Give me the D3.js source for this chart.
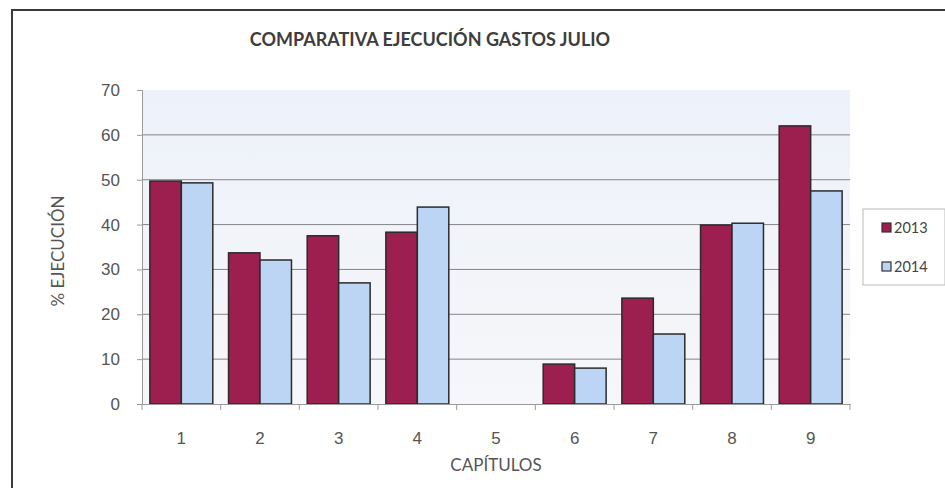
<!DOCTYPE html>
<html>
<head>
<meta charset="utf-8">
<script src="https://cdn.jsdelivr.net/npm/d3@7"></script>
<style>
  body { margin: 0; background: #fff; }
  svg { display: block; font-family: Lato, "Open Sans", sans-serif; }
</style>
</head>
<body>
<div id="chart"></div>
<script>
// datos
const capitulos = ["1", "2", "3", "4", "5", "6", "7", "8", "9"];
const series = ["2013", "2014"];
const valores2013 = [49.7, 33.7, 37.5, 38.3, 0, 8.9, 23.6, 39.9, 62.0];
const valores2014 = [49.3, 32.1, 27.0, 43.9, 0, 8.0, 15.6, 40.3, 47.5];
const yTicks = [0, 10, 20, 30, 40, 50, 60, 70];
const colores = ["#9c1f50", "#bcd5f4"];

const width = 945, height = 488;
const margin = { top: 90, right: 95, bottom: 84, left: 142 };
const plotW = width - margin.left - margin.right;
const plotH = height - margin.top - margin.bottom;

const svg = d3.select("#chart").append("svg")
  .attr("width", width)
  .attr("height", height);

// marco exterior
svg.append("rect")
  .attr("x", 12).attr("y", 10)
  .attr("width", 960).attr("height", 500)
  .attr("fill", "#fff")
  .attr("stroke", "#3a3a3a")
  .attr("stroke-width", 2);

// degradado suave del área de trazado
const defs = svg.append("defs");
const grad = defs.append("linearGradient")
  .attr("id", "fondo").attr("x1", 0).attr("y1", 0).attr("x2", 0).attr("y2", 1);
grad.append("stop").attr("offset", "0%").attr("stop-color", "#edf1f9");
grad.append("stop").attr("offset", "100%").attr("stop-color", "#f6f7fa");

const g = svg.append("g").attr("transform", `translate(${margin.left},${margin.top})`);

const x = d3.scaleBand().domain(capitulos).range([0, plotW]).paddingInner(0).paddingOuter(0);
const x1 = d3.scaleBand().domain(series).range([0, x.bandwidth()]).paddingOuter(0.25);
const y = d3.scaleLinear().domain([0, 70]).range([plotH, 0]);

g.append("rect")
  .attr("width", plotW).attr("height", plotH)
  .attr("fill", "url(#fondo)");

// líneas de cuadrícula
g.selectAll("line.grid")
  .data(yTicks.filter(d => d > 0 && d < 70))
  .enter().append("line")
    .attr("class", "grid")
    .attr("x1", 0).attr("x2", plotW)
    .attr("y1", d => y(d)).attr("y2", d => y(d))
    .attr("stroke", "#858585")
    .attr("stroke-width", 1);

// barras
const datos = capitulos.map((c, i) => ({ cap: c, vals: [valores2013[i], valores2014[i]] }));
const grupo = g.selectAll("g.cap")
  .data(datos)
  .enter().append("g")
    .attr("transform", d => `translate(${x(d.cap)},0)`);

grupo.selectAll("rect")
  .data(d => d.vals.filter(v => v > 0).map((v, k) => ({ serie: series[k], v: v, k: k })))
  .enter().append("rect")
    .attr("x", d => x1(d.serie))
    .attr("y", d => y(d.v))
    .attr("width", x1.bandwidth())
    .attr("height", d => plotH - y(d.v))
    .attr("fill", d => colores[d.k])
    .attr("stroke", "#2b2b2b")
    .attr("stroke-width", 1.5);

// eje Y
const yAxis = g.append("g")
  .call(d3.axisLeft(y).tickValues(yTicks).tickSize(5).tickPadding(17));
yAxis.select(".domain").attr("stroke", "#999");
yAxis.selectAll(".tick line").attr("stroke", "#999");
yAxis.selectAll("text").attr("fill", "#555").attr("font-size", 17);

// eje X
const xAxis = g.append("g")
  .attr("transform", `translate(0,${plotH})`)
  .call(d3.axisBottom(x).tickSize(0).tickPadding(28));
xAxis.select(".domain").attr("stroke", "#999");
xAxis.selectAll("text").attr("fill", "#555").attr("font-size", 17);
xAxis.selectAll("line.sep")
  .data(d3.range(capitulos.length + 1))
  .enter().append("line")
    .attr("class", "sep")
    .attr("x1", i => i * x.bandwidth()).attr("x2", i => i * x.bandwidth())
    .attr("y1", 0).attr("y2", 6)
    .attr("stroke", "#999");

// títulos
svg.append("text")
  .attr("x", 430).attr("y", 46)
  .attr("text-anchor", "middle")
  .attr("font-size", 18).attr("font-weight", "bold")
  .attr("fill", "#3d3d3d")
  .text("COMPARATIVA EJECUCIÓN GASTOS JULIO");

svg.append("text")
  .attr("x", margin.left + plotW / 2).attr("y", 471)
  .attr("text-anchor", "middle")
  .attr("font-size", 17).attr("fill", "#555")
  .text("CAPÍTULOS");

svg.append("text")
  .attr("transform", `translate(64,${margin.top + plotH / 2 + 4}) rotate(-90)`)
  .attr("text-anchor", "middle")
  .attr("font-size", 17).attr("fill", "#555")
  .text("% EJECUCIÓN");

// leyenda
const leg = svg.append("g").attr("transform", "translate(863,209)");
leg.append("rect")
  .attr("width", 82).attr("height", 76)
  .attr("fill", "#fff").attr("stroke", "#bbb");
series.forEach((s, k) => {
  leg.append("rect")
    .attr("x", 19).attr("y", 14 + k * 39)
    .attr("width", 9).attr("height", 9)
    .attr("fill", colores[k]).attr("stroke", "#333").attr("stroke-width", 1.2);
  leg.append("text")
    .attr("x", 31).attr("y", 23.5 + k * 39)
    .attr("font-size", 14.5).attr("fill", "#444")
    .text(s);
});
</script>
</body>
</html>
